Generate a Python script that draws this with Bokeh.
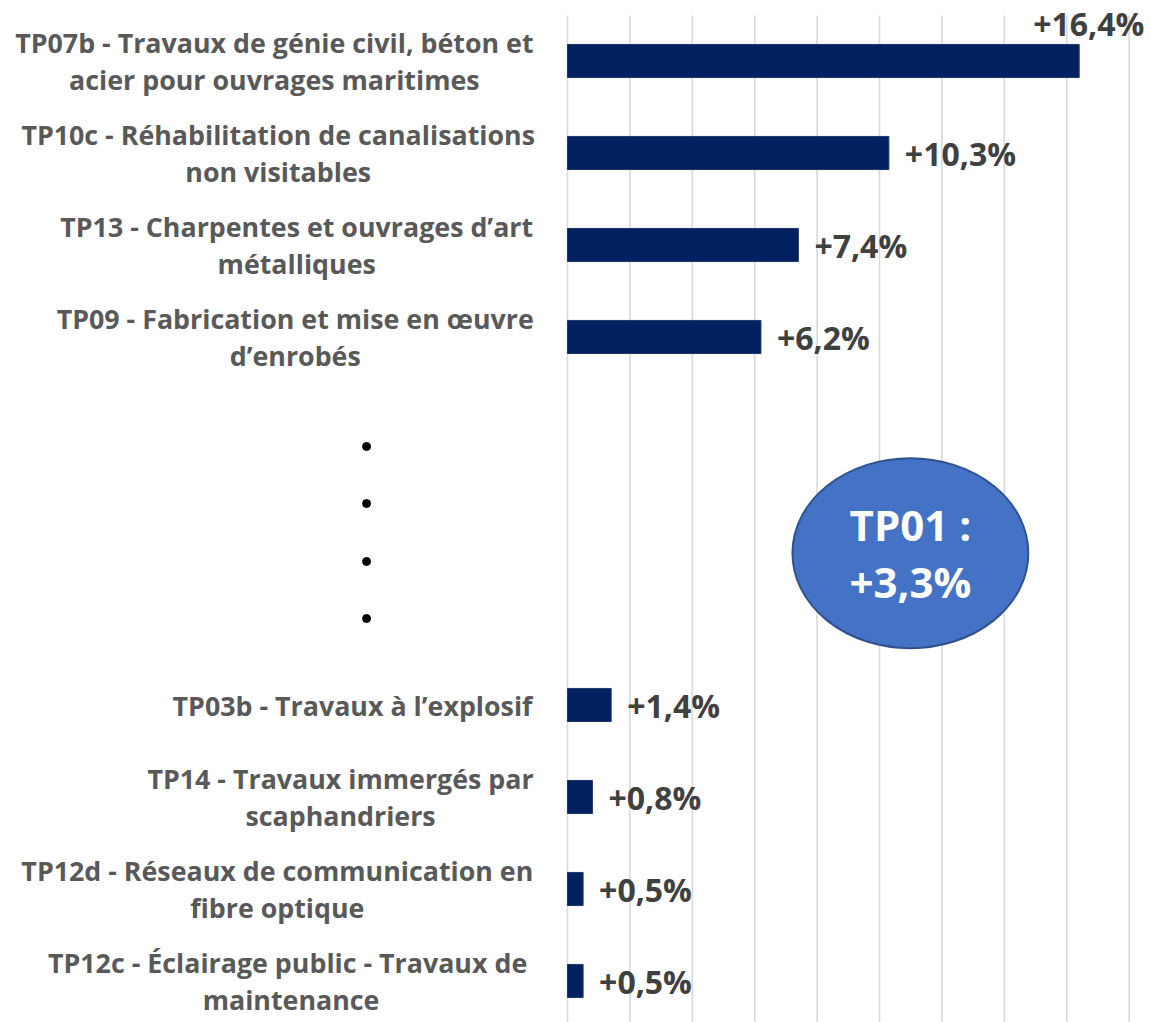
from bokeh.plotting import figure
from bokeh.models import ColumnDataSource, Range1d, LabelSet
from bokeh.core.properties import value
from bokeh.embed import file_html
from bokeh.resources import INLINE

# ---------------- data ----------------
categories = [
    "TP07b - Travaux de génie civil, béton et\nacier pour ouvrages maritimes",
    "TP10c - Réhabilitation de canalisations\nnon visitables",
    "TP13 - Charpentes et ouvrages d’art\nmétalliques",
    "TP09 - Fabrication et mise en œuvre\nd’enrobés",
    "TP03b - Travaux à l’explosif",
    "TP14 - Travaux immergés par\nscaphandriers",
    "TP12d - Réseaux de communication en\nfibre optique",
    "TP12c - Éclairage public - Travaux  de\nmaintenance",
]
values = [16.4, 10.3, 7.4, 6.2, 1.4, 0.8, 0.5, 0.5]
grid_ticks = [0, 2, 4, 6, 8, 10, 12, 14, 16, 18]
highlight_label = "TP01 :\n+3,3%"
highlight_value = 3.3

# ---------------- layout ----------------
TOP_GROUP = 4          # bars shown before the ellipsis
GAP_ROWS = 3           # empty rows standing for the omitted items
rows = [i if i < TOP_GROUP else i + GAP_ROWS for i in range(len(values))]

W, H = 1151, 1022
PX_PER_UNIT = 31.2     # pixels per percentage point
ROW_PX = 92.0          # pixels per category row
X0_PX = 567            # screen x of value 0
Y0_PX = 60.5           # screen y of the first row centre
GRID_TOP_PX = 15       # grid lines start below the top label area
CAT_FONT_PX = 26.8
LABEL_GAP_PX = 34      # gap between category labels and the axis

x_start = -X0_PX / PX_PER_UNIT
x_end = x_start + W / PX_PER_UNIT
y_top = -Y0_PX / ROW_PX
y_bottom = y_top + H / ROW_PX
grid_top = (GRID_TOP_PX - Y0_PX) / ROW_PX

# approximate advance widths of Open Sans Bold (em units), used to centre
# the lines of each wrapped category label under its (right-aligned) first line
_W = {" ": .26, "-": .322, ",": .295, "’": .29, "'": .29,
      "0": .572, "1": .572, "2": .572, "3": .572, "4": .572, "5": .572,
      "6": .572, "7": .572, "8": .572, "9": .572,
      "C": .637, "E": .556, "É": .556, "F": .543, "P": .637, "R": .664, "T": .568,
      "a": .59, "à": .59, "b": .627, "c": .514, "d": .627, "e": .598, "é": .598,
      "f": .394, "g": .559, "h": .66, "i": .302, "j": .302, "k": .625, "l": .302,
      "m": .982, "n": .66, "o": .62, "p": .627, "q": .627, "r": .455, "s": .498,
      "t": .42, "u": .66, "v": .578, "w": .843, "x": .602, "y": .578, "z": .495,
      "œ": .98}

def text_width(s, size):
    return sum(_W.get(ch, .58) for ch in s) * size

cat_xoff = [-LABEL_GAP_PX - max(text_width(l, CAT_FONT_PX) for l in c.split("\n")) / 2
            for c in categories]

p = figure(width=W, height=H, output_backend="svg", toolbar_location=None,
           x_range=Range1d(x_start, x_end), y_range=Range1d(y_bottom, y_top),
           min_border_left=0, min_border_right=0, min_border_top=0,
           min_border_bottom=0)
p.xaxis.visible = False
p.yaxis.visible = False
p.outline_line_color = None
p.xgrid.grid_line_color = None
p.ygrid.grid_line_color = None
p.background_fill_color = "white"
p.border_fill_color = "white"

# vertical grid lines (value axis), starting just below the top label area
p.segment(x0=grid_ticks, x1=grid_ticks, y0=[grid_top] * len(grid_ticks),
          y1=[y_bottom] * len(grid_ticks), line_color="#D9D9D9", line_width=1.6)

def fmt(v):
    return ("+%.1f%%" % v).replace(".", ",")

# label placement rule: the longest bar's label does not fit to the right
xoff = [-46 if v > 15 else 16 for v in values]
yoff = [38 if v > 15 else 0 for v in values]

src = ColumnDataSource(dict(
    y=rows, v=values, cat=categories, lab=[fmt(v) for v in values],
    zero=[0] * len(values), xoff=xoff, yoff=yoff, cxoff=cat_xoff,
))

p.hbar(y="y", left="zero", right="v", height=0.36, source=src,
       fill_color="#002060", line_color="#1F3864", line_width=1)

p.text(x="zero", y="y", text="cat", source=src, x_offset="cxoff",
       text_align="center", text_baseline="middle",
       text_font=value("Open Sans"), text_font_style="bold",
       text_font_size="%.1fpx" % CAT_FONT_PX, text_color="#595959",
       text_line_height=0.985)

labels = LabelSet(x="v", y="y", text="lab", source=src,
                  x_offset="xoff", y_offset="yoff",
                  text_align="left", text_baseline="middle",
                  text_font=value("Open Sans"), text_font_style="bold",
                  text_font_size="32px", text_color="#404040")
p.add_layout(labels)

# ellipsis dots standing for omitted items
dot_x = [-6.44] * 4
dot_y = [4.19, 4.81, 5.44, 6.06]
p.scatter(x=dot_x, y=dot_y, size=8, marker="circle",
          fill_color="black", line_color="black")

# highlight bubble for TP01
bubble = ColumnDataSource(dict(x=[10.99], y=[5.35], t=[highlight_label]))
p.ellipse(x="x", y="y", width=7.56, height=2.065, source=bubble,
          fill_color="#4472C4", line_color="#2F528F", line_width=2)
p.text(x="x", y="y", text="t", source=bubble, text_align="center",
       text_baseline="middle", text_font=value("Open Sans"),
       text_font_style="bold", text_font_size="42px", text_color="white",
       text_line_height=1.0)

open("out.html", "w").write(file_html(p, INLINE))
